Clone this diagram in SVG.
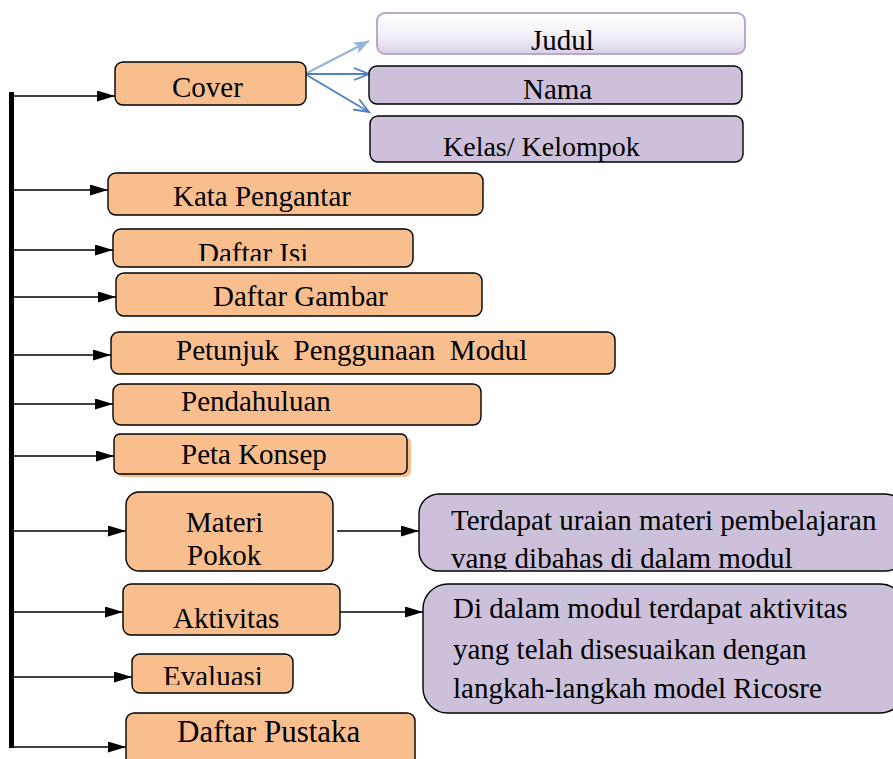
<svg xmlns="http://www.w3.org/2000/svg" width="893" height="759" viewBox="0 0 893 759">
  <style>
    .o { fill: #f8be8e; stroke: #000; stroke-width: 1.4; }
    .p { fill: #ccc0da; stroke: #000; stroke-width: 1.4; }
    .t { font-family: "Liberation Serif", "Times New Roman", serif; font-size: 29px; fill: #000; white-space: pre; }
    .c { stroke: #000; stroke-width: 1.5; fill: none; }
  </style>
  <defs>
    <marker id="ah" markerUnits="userSpaceOnUse" markerWidth="18" markerHeight="12" refX="18" refY="5.5" orient="auto">
      <path d="M0,0 L18,5.5 L0,11 z" fill="#000"/>
    </marker>
    <marker id="bl1" markerUnits="userSpaceOnUse" markerWidth="16" markerHeight="12" refX="15" refY="6" orient="auto">
      <path d="M0,0 L15,6 L0,12 L3,6 z" fill="#95b3d7"/>
    </marker>
    <marker id="bl2" markerUnits="userSpaceOnUse" markerWidth="18" markerHeight="16" refX="16" refY="7" orient="auto">
      <path d="M1,1 L16,7 L1,13" fill="none" stroke="#4f81bd" stroke-width="1.8"/>
    </marker>
    <linearGradient id="jg" x1="0" y1="0" x2="0" y2="1">
      <stop offset="0" stop-color="#ffffff"/>
      <stop offset="0.6" stop-color="#f1edf6"/>
      <stop offset="1" stop-color="#d9cfe6"/>
    </linearGradient>
    <clipPath id="clipIsi"><rect x="113" y="229" width="300" height="32"/></clipPath>
    <clipPath id="clipMateri"><rect x="126" y="492" width="207" height="76"/></clipPath>
    <clipPath id="clipTerdapat"><rect x="419" y="494" width="480" height="75"/></clipPath>
    <clipPath id="clipEval"><rect x="132" y="654" width="161" height="31"/></clipPath>
  </defs>

  <g id="connectors">
    <line x1="11.5" y1="92" x2="11.5" y2="748" stroke="#000" stroke-width="5"/>
    <line class="c" x1="13" y1="96" x2="115" y2="96" marker-end="url(#ah)"/>
    <line class="c" x1="13" y1="190" x2="108" y2="190" marker-end="url(#ah)"/>
    <line class="c" x1="13" y1="250" x2="113" y2="250" marker-end="url(#ah)"/>
    <line class="c" x1="13" y1="297" x2="116" y2="297" marker-end="url(#ah)"/>
    <line class="c" x1="13" y1="355" x2="111" y2="355" marker-end="url(#ah)"/>
    <line class="c" x1="13" y1="404" x2="113" y2="404" marker-end="url(#ah)"/>
    <line class="c" x1="13" y1="456" x2="114" y2="456" marker-end="url(#ah)"/>
    <line class="c" x1="9" y1="531" x2="126" y2="531" marker-end="url(#ah)"/>
    <line class="c" x1="9" y1="612" x2="123" y2="612" marker-end="url(#ah)"/>
    <line class="c" x1="13" y1="677" x2="132" y2="677" marker-end="url(#ah)"/>
    <line class="c" x1="11" y1="747" x2="126" y2="747" marker-end="url(#ah)"/>
    <line class="c" x1="337" y1="531" x2="419" y2="531" marker-end="url(#ah)"/>
    <line class="c" x1="340" y1="612" x2="423" y2="612" marker-end="url(#ah)"/>
    <line x1="305" y1="74" x2="369" y2="41" stroke="#95b3d7" stroke-width="2" marker-end="url(#bl1)"/>
    <line x1="305" y1="74" x2="369" y2="74" stroke="#4f81bd" stroke-width="1.8" marker-end="url(#bl2)"/>
    <line x1="305" y1="74" x2="369" y2="112" stroke="#4f81bd" stroke-width="1.8" marker-end="url(#bl2)"/>
  </g>

  <g id="cover">
    <rect class="o" x="115" y="62" width="191" height="43" rx="8"/>
    <text class="t" x="172" y="97">Cover</text>
  </g>
  <g id="judul">
    <rect x="377" y="13" width="368" height="41" rx="8" fill="url(#jg)" stroke="#b8a8cc" stroke-width="2"/>
    <text class="t" x="531" y="50">Judul</text>
  </g>
  <g id="nama">
    <rect class="p" x="369" y="66" width="373" height="38" rx="8"/>
    <text class="t" x="523" y="99">Nama</text>
  </g>
  <g id="kelas">
    <rect class="p" x="370" y="116" width="373" height="46" rx="8"/>
    <text class="t" x="443" y="156" style="font-size:28px">Kelas/ Kelompok</text>
  </g>
  <g id="kata-pengantar">
    <rect class="o" x="108" y="173" width="375" height="42" rx="8"/>
    <text class="t" x="173" y="206">Kata Pengantar</text>
  </g>
  <g id="daftar-isi">
    <rect class="o" x="113" y="229" width="300" height="38" rx="8"/>
    <text class="t" x="198" y="263" clip-path="url(#clipIsi)">Daftar Isi</text>
  </g>
  <g id="daftar-gambar">
    <rect class="o" x="116" y="273" width="366" height="43" rx="8"/>
    <text class="t" x="213" y="306">Daftar Gambar</text>
  </g>
  <g id="petunjuk">
    <rect class="o" x="111" y="332" width="504" height="42" rx="8"/>
    <text class="t" x="176" y="360">Petunjuk  Penggunaan  Modul</text>
  </g>
  <g id="pendahuluan">
    <rect class="o" x="113" y="384" width="368" height="41" rx="8"/>
    <text class="t" x="181" y="411">Pendahuluan</text>
  </g>
  <g id="peta-konsep">
    <rect x="117" y="437" width="294" height="40" rx="6" fill="#f8be8e"/>
    <rect class="o" x="114" y="434" width="293" height="40" rx="6"/>
    <text class="t" x="181" y="464">Peta Konsep</text>
  </g>
  <g id="materi-pokok">
    <rect class="o" x="126" y="492" width="207" height="79" rx="13"/>
    <g clip-path="url(#clipMateri)">
      <text class="t" x="186" y="532">Materi</text>
      <text class="t" x="187" y="565">Pokok</text>
    </g>
  </g>
  <g id="terdapat">
    <rect class="p" x="419" y="494" width="486" height="77" rx="20"/>
    <g clip-path="url(#clipTerdapat)">
      <text class="t" x="451" y="530">Terdapat uraian materi pembelajaran</text>
      <text class="t" x="451" y="568">vang dibahas di dalam modul</text>
    </g>
  </g>
  <g id="aktivitas">
    <rect class="o" x="123" y="584" width="217" height="51" rx="8"/>
    <text class="t" x="173" y="628">Aktivitas</text>
  </g>
  <g id="di-dalam">
    <rect class="p" x="423" y="584" width="482" height="129" rx="25"/>
    <text class="t" x="453" y="618">Di dalam modul terdapat aktivitas</text>
    <text class="t" x="453" y="659">yang telah disesuaikan dengan</text>
    <text class="t" x="453" y="698">langkah-langkah model Ricosre</text>
  </g>
  <g id="evaluasi">
    <rect class="o" x="132" y="654" width="161" height="39" rx="8"/>
    <text class="t" x="163" y="686" clip-path="url(#clipEval)">Evaluasi</text>
  </g>
  <g id="daftar-pustaka">
    <rect class="o" x="126" y="713" width="289" height="60" rx="8"/>
    <text class="t" x="177" y="742" style="font-size:31px">Daftar Pustaka</text>
  </g>
</svg>
